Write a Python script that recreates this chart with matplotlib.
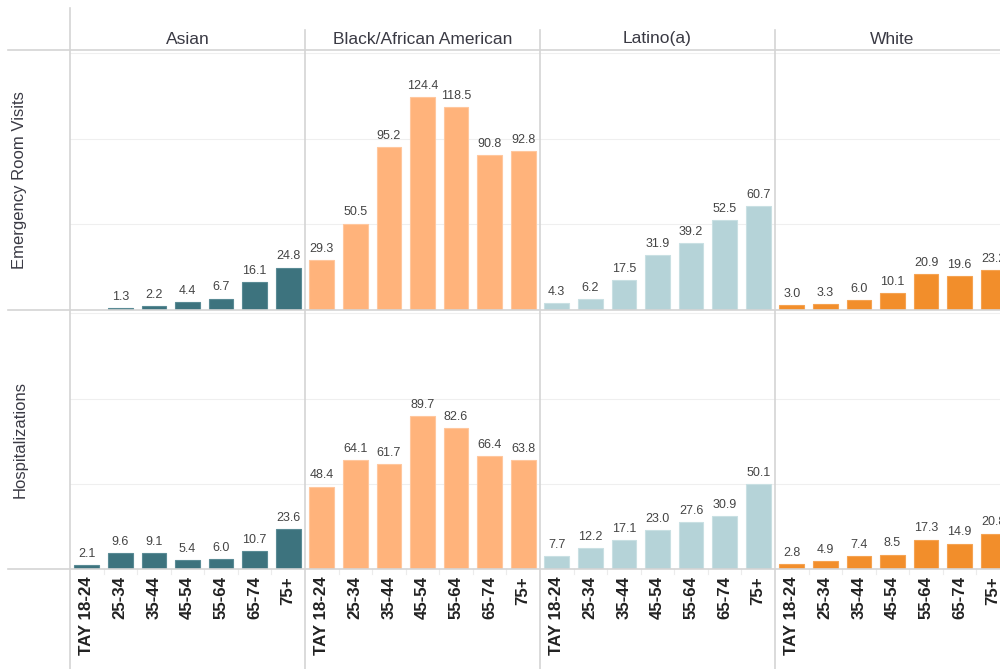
import numpy as np
import matplotlib.pyplot as plt
from matplotlib.lines import Line2D

plt.rcParams['font.family'] = ['Liberation Sans', 'DejaVu Sans']

# -----------------------------
# Rates by age group
# -----------------------------
groups = ["Asian", "Black/African American", "Latino(a)", "White"]
ages = ["TAY 18-24", "25-34", "35-44", "45-54", "55-64", "65-74", "75+"]
measures = ["Emergency Room Visits", "Hospitalizations"]

er_asian = [np.nan, 1.3, 2.2, 4.4, 6.7, 16.1, 24.8]
er_black = [29.3, 50.5, 95.2, 124.4, 118.5, 90.8, 92.8]
er_latino = [4.3, 6.2, 17.5, 31.9, 39.2, 52.5, 60.7]
er_white = [3.0, 3.3, 6.0, 10.1, 20.9, 19.6, 23.2]

hosp_asian = [2.1, 9.6, 9.1, 5.4, 6.0, 10.7, 23.6]
hosp_black = [48.4, 64.1, 61.7, 89.7, 82.6, 66.4, 63.8]
hosp_latino = [7.7, 12.2, 17.1, 23.0, 27.6, 30.9, 50.1]
hosp_white = [2.8, 4.9, 7.4, 8.5, 17.3, 14.9, 20.8]

rows = [
    [er_asian, er_black, er_latino, er_white],
    [hosp_asian, hosp_black, hosp_latino, hosp_white],
]
colors = ["#3d737e", "#ffb37b", "#b5d3d8", "#f28e2b"]
edges = ["#5a8b95", "#ffc79e", "#c9e0e3", "#f5a352"]

# -----------------------------
# Layout (pixels on a 1000x669 canvas)
# -----------------------------
W, H = 1000, 669
left0, col_w = 70, 235
row_top = [50, 310]
row_h = [260, 259]
line_c = "#d4d4d4"

fig = plt.figure(figsize=(10, 6.69), dpi=100)


def fx(x):
    return x / W


def fy(y):
    return 1 - y / H


for r, series in enumerate(rows):
    for c, vals in enumerate(series):
        ax = fig.add_axes([fx(left0 + c * col_w), fy(row_top[r] + row_h[r]),
                           col_w / W, row_h[r] / H])
        x = np.arange(len(ages))
        v = np.array(vals, dtype=float)
        ax.bar(x, v, width=0.74, color=colors[c], edgecolor=edges[c],
               linewidth=0.8, zorder=3)
        for xi, vi in zip(x, v):
            if np.isnan(vi):
                continue
            ax.text(xi, vi + 3, f"{vi:.1f}", ha="center", va="bottom",
                    fontsize=9, color="#444444", zorder=4)
        ax.set_xlim(-0.5, 6.5)
        ax.set_ylim(0, 152)
        for g in (50, 100, 150):
            ax.axhline(g, color="#efefef", lw=0.8, zorder=1)
        for s in ax.spines.values():
            s.set_visible(False)
        ax.set_yticks([])
        if r == 1:
            ax.set_xticks(x)
            ax.set_xticklabels(ages, rotation=90, fontsize=12.2,
                               fontweight="bold", color="#222222", va="top")
            ax.tick_params(axis="x", length=0, pad=5)
            # faint separators between age slots
            for b in x[1:] - 0.5:
                ax.plot([b, b], [0, -3], color="#ececec", lw=0.8,
                        clip_on=False, zorder=1)
        else:
            ax.set_xticks([])
        ax.patch.set_alpha(0)

# header labels
for c, g in enumerate(groups):
    fig.text(fx(left0 + c * col_w + col_w / 2), fy(39), g, ha="center",
             va="center", fontsize=12.5, color="#3a3a44")

# row labels
for r, m in enumerate(measures):
    fig.text(fx(20), fy(row_top[r] + row_h[r] / 2), m, rotation=90,
             ha="center", va="center", fontsize=12, color="#3a3a44")

# divider lines
for y in (50, 310, 569):
    fig.add_artist(Line2D([fx(8), 1], [fy(y), fy(y)], color=line_c, lw=1.2))
fig.add_artist(Line2D([fx(70), fx(70)], [fy(8), 0], color=line_c, lw=1.2))
for c in range(1, 4):
    xp = fx(left0 + c * col_w)
    fig.add_artist(Line2D([xp, xp], [fy(30), 0], color=line_c, lw=1.2))

fig.savefig("out.png", dpi=100)
